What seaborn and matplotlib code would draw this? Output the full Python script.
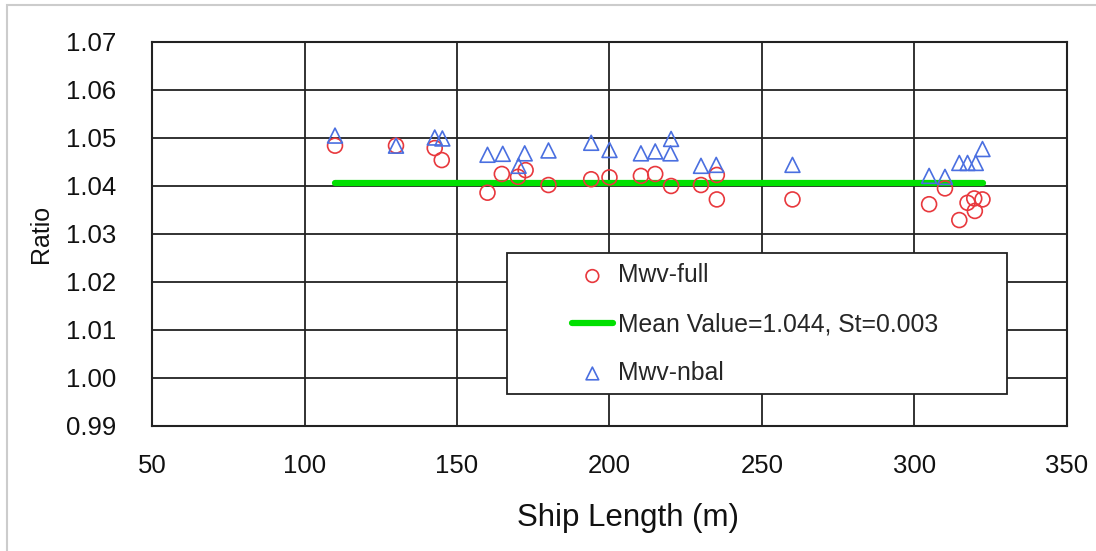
import numpy as np
import pandas as pd
import matplotlib
matplotlib.use("Agg")
import matplotlib.pyplot as plt
import seaborn as sns
from matplotlib.patches import Rectangle

# Mwv-full (circles)
full_len = [110, 130, 142.7, 145, 160, 164.7, 170, 172.5, 180, 194, 200, 210.3,
            215, 220.2, 230, 235.2, 235.2, 260, 304.8, 310, 314.7, 317.4, 319.6, 319.8, 322.3]
full_ratio = [1.0484, 1.0484, 1.0479, 1.0454, 1.0386, 1.0425, 1.0419, 1.0433, 1.0402, 1.0414,
              1.0418, 1.0421, 1.0425, 1.0400, 1.0402, 1.0423, 1.0372, 1.0372, 1.0362, 1.0395,
              1.0329, 1.0365, 1.0374, 1.0348, 1.0372]

# Mwv-nbal (triangles)
nbal_len = [110, 130, 142.7, 145.2, 160, 165, 170.2, 172.2, 180, 194, 200, 210.3,
            215, 220.2, 220, 230, 235, 260, 304.8, 310, 314.7, 317.4, 320.1, 322.3]
nbal_ratio = [1.0505, 1.0484, 1.0501, 1.0499, 1.0465, 1.0467, 1.0442, 1.0468, 1.0474, 1.0490,
              1.0475, 1.0468, 1.0472, 1.0498, 1.0468, 1.0442, 1.0444, 1.0444, 1.0421, 1.0419,
              1.0448, 1.0448, 1.0448, 1.0477]

# mean line
mean_len = [110, 322.5]
mean_ratio = [1.0407, 1.0407]
mean_label = "Mean Value=1.044, St=0.003"

sns.set_style("white")
plt.rcParams["font.family"] = ["Liberation Sans", "DejaVu Sans"]

full_df = pd.DataFrame({"len": full_len, "ratio": full_ratio})
nbal_df = pd.DataFrame({"len": nbal_len, "ratio": nbal_ratio})
mean_df = pd.DataFrame({"len": mean_len, "ratio": mean_ratio})

fig = plt.figure(figsize=(10.96, 5.51), dpi=100)
ax = fig.add_axes([0.1387, 0.2269, 0.8348, 0.6969])

sns.lineplot(data=mean_df, x="len", y="ratio", ax=ax, color="#00e000", lw=4.5,
             label=mean_label, zorder=2)
sns.scatterplot(data=full_df, x="len", y="ratio", ax=ax, marker="o", s=115,
                facecolor="none", edgecolor="#e8383d", linewidth=1.2,
                label="Mwv-full", zorder=3)
sns.scatterplot(data=nbal_df, x="len", y="ratio", ax=ax, marker="^", s=115,
                facecolor="none", edgecolor="#4a6fe0", linewidth=1.2,
                label="Mwv-nbal", zorder=3)

ax.set_xlim(50, 350)
ax.set_ylim(0.99, 1.07)
ax.set_xticks(np.arange(50, 351, 50))
ax.set_yticks(np.arange(0.99, 1.0701, 0.01))
ax.set_yticklabels([f"{v:.2f}" for v in np.arange(0.99, 1.0701, 0.01)])
ax.grid(True, color="#222222", lw=1.3)
ax.set_axisbelow(True)
for sp in ax.spines.values():
    sp.set_color("#222222")
    sp.set_linewidth(1.5)
ax.tick_params(axis="both", labelsize=18.5, length=3, width=1.2, color="#222222",
               labelcolor="#111111")
ax.tick_params(axis="y", pad=23)
ax.tick_params(axis="x", pad=17)
ax.set_xlabel("Ship Length (m)", fontsize=22.5, labelpad=18, color="#111111")
ax.xaxis.label.set_x(0.52)
ax.set_ylabel("Ratio", fontsize=18, labelpad=9, color="#111111")

# legend frame drawn separately so the entries sit centred in a wide box
ax.add_patch(Rectangle((0.388, 0.0833), 0.546, 0.3672, transform=ax.transAxes,
                       facecolor="white", edgecolor="#222222", lw=1.3, zorder=4))

handles, labels = ax.get_legend_handles_labels()
order = [labels.index("Mwv-full"), labels.index(mean_label), labels.index("Mwv-nbal")]
leg = ax.legend([handles[i] for i in order], [labels[i] for i in order],
                loc="center", bbox_to_anchor=(0.659, 0.265),
                fontsize=17.8, frameon=False, borderpad=0,
                labelspacing=1.0, handlelength=1.65, handletextpad=0.2,
                borderaxespad=0, markerscale=0.85)
leg.set_zorder(5)

fig.patches.append(Rectangle((7 / 1096, -0.1), 1.2, 1 - 5 / 551 + 0.1,
                             transform=fig.transFigure, fill=False,
                             edgecolor="#cccccc", lw=1.5))

fig.savefig("out.png", dpi=100)
